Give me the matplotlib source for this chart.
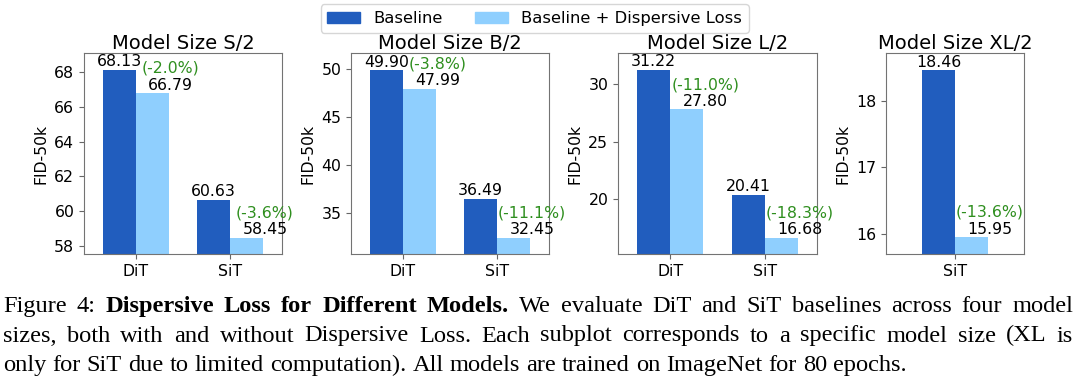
import matplotlib
matplotlib.use('Agg')
import matplotlib.pyplot as plt
from matplotlib.patches import Patch

# data
sizes = ['S/2', 'B/2', 'L/2', 'XL/2']
models = [['DiT', 'SiT'], ['DiT', 'SiT'], ['DiT', 'SiT'], ['SiT']]
baseline = [[68.13, 60.63], [49.90, 36.49], [31.22, 20.41], [18.46]]
dispersive = [[66.79, 58.45], [47.99, 32.45], [27.80, 16.68], [15.95]]
ylims = [(57.52, 69.11), (30.76, 51.70), (15.26, 32.69), (15.70, 18.72)]
yticks = [[58, 60, 62, 64, 66, 68], [35, 40, 45, 50], [20, 25, 30], [16, 17, 18]]

caption = [
    [("Figure 4:", False), ("Dispersive Loss for Different Models.", True),
     ("We evaluate DiT and SiT baselines across four model", False)],
    [("sizes, both with and without Dispersive Loss. Each subplot corresponds to a specific model size (XL is", False)],
    [("only for SiT due to limited computation). All models are trained on ImageNet for 80 epochs.", False)],
]

DARK = '#215dbe'
LIGHT = '#8fcffe'
GREEN = '#2f8f1f'
FS = 11.3

W, H = 1080, 381
fig = plt.figure(figsize=(W / 100, H / 100), dpi=100)

# axes boxes in pixels: left, right
boxes = [(84, 282), (351, 549), (618, 817), (886, 1024)]
top, bottom = 53, 254
xlims = [(-0.55, 1.55), (-0.55, 1.55), (-0.55, 1.55), (-0.73, 0.73)]
w = 0.35

for i, (l, r) in enumerate(boxes):
    ax = fig.add_axes([l / W, 1 - bottom / H, (r - l) / W, (bottom - top) / H])
    xs = list(range(len(models[i])))
    ax.bar([x - w / 2 for x in xs], baseline[i], w, color=DARK)
    ax.bar([x + w / 2 for x in xs], dispersive[i], w, color=LIGHT)
    for x, b, d in zip(xs, baseline[i], dispersive[i]):
        ax.annotate(f'{b:.2f}', (x - w / 2, b), xytext=(0, 0.5), textcoords='offset points',
                    ha='center', va='bottom', fontsize=FS)
        ax.annotate(f'{d:.2f}', (x + w + 0.02, d), xytext=(0, 0.5), textcoords='offset points',
                    ha='center', va='bottom', fontsize=FS)
        pct = (d - b) / b * 100
        ax.annotate(f'({pct:.1f}%)', (x + w + 0.02, d), xytext=(0, 12.5), textcoords='offset points',
                    ha='center', va='bottom', fontsize=FS, color=GREEN)
    ax.set_xlim(*xlims[i])
    ax.set_ylim(*ylims[i])
    ax.set_xticks(xs)
    ax.set_xticklabels(models[i], fontsize=FS)
    ax.set_yticks(yticks[i])
    ax.tick_params(axis='y', labelsize=FS, color='0.4')
    ax.tick_params(axis='x', color='0.4')
    ax.set_ylabel('FID-50k', fontsize=FS)
    ax.set_title(f'Model Size {sizes[i]}', fontsize=14, pad=3)
    for s in ax.spines.values():
        s.set_color('0.45')

handles = [Patch(color=DARK), Patch(color=LIGHT)]
fig.legend(handles, ['Baseline', 'Baseline + Dispersive Loss'], loc='upper center',
           bbox_to_anchor=(0.495, 0.997), ncol=2, fontsize=11.8, borderaxespad=0.2)

# caption, justified word by word
fig.canvas.draw()
renderer = fig.canvas.get_renderer()
CFS = 17.6
cap_left, cap_right = 3, 1073
baselines = [312, 341.5, 371]


def measure(txt, bold):
    t = fig.text(0, 0, txt, fontsize=CFS, family='Liberation Serif',
                 weight='bold' if bold else 'normal')
    wd = t.get_window_extent(renderer).width
    t.remove()
    return wd


space = measure('a a', False) - measure('aa', False)
for n, segs in enumerate(caption):
    words = []
    for txt, bold in segs:
        for wd in txt.split(' '):
            words.append((wd, bold))
    widths = [measure(wd, b) for wd, b in words]
    if n < len(caption) - 1:
        gap = (cap_right - cap_left - sum(widths)) / (len(words) - 1)
    else:
        gap = space
    x = cap_left
    for (wd, b), wdth in zip(words, widths):
        fig.text(x / W, 1 - baselines[n] / H, wd, fontsize=CFS, family='Liberation Serif',
                 weight='bold' if b else 'normal', va='baseline')
        x += wdth + gap

fig.savefig('out.png', dpi=100)
